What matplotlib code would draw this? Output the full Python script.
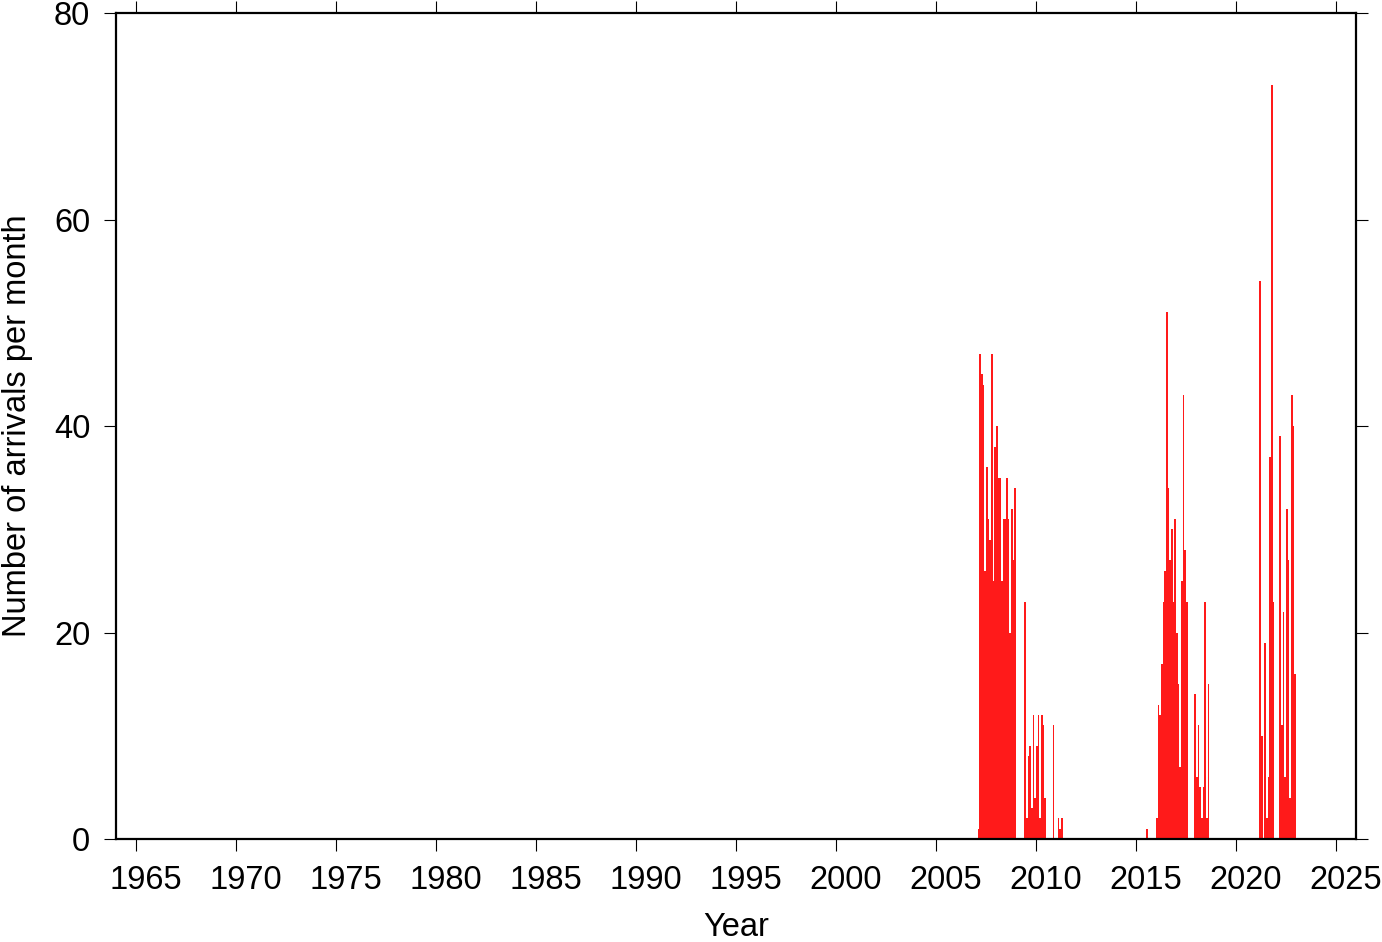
import numpy as np
import matplotlib
matplotlib.use("Agg")
import matplotlib.pyplot as plt

plt.rcParams["font.family"] = ["Liberation Sans", "DejaVu Sans"]

# monthly arrival counts (months with no arrivals are left out)
years = [2007] * 11 + [2008] * 12 + [2009] * 7 + [2010] * 7 + [2011] * 3 \
    + [2015] + [2016] * 12 + [2017] * 8 + [2018] * 8 + [2021] * 8 + [2022] * 10

months = [2, 3, 4, 5, 6, 7, 8, 9, 10, 11, 12,
          1, 2, 3, 4, 5, 6, 7, 8, 9, 10, 11, 12,
          6, 7, 8, 9, 10, 11, 12,
          1, 2, 3, 4, 5, 6, 11,
          2, 3, 4,
          7,
          1, 2, 3, 4, 5, 6, 7, 8, 9, 10, 11, 12,
          1, 2, 3, 4, 5, 6, 7, 12,
          1, 2, 3, 4, 5, 6, 7, 8,
          3, 4, 6, 7, 8, 9, 10, 11,
          3, 4, 5, 6, 7, 8, 9, 10, 11, 12]

counts = [1, 47, 45, 44, 26, 36, 31, 29, 47, 25, 38,
          40, 35, 35, 25, 31, 31, 35, 31, 20, 32, 27, 34,
          23, 2, 8, 9, 3, 12, 4,
          9, 12, 2, 12, 11, 4, 11,
          2, 1, 2,
          1,
          2, 13, 12, 17, 23, 26, 51, 34, 27, 30, 23, 31,
          20, 15, 7, 25, 43, 28, 23, 14,
          6, 11, 5, 2, 5, 23, 2, 15,
          54, 10, 19, 2, 6, 37, 73, 23,
          39, 11, 22, 6, 32, 27, 4, 43, 40, 16]

year_ticks = list(range(1965, 2030, 5))
count_ticks = [0, 20, 40, 60, 80]

t = np.array(years) + (np.array(months) - 0.5) / 12.0

fig = plt.figure(figsize=(13.82, 9.42), dpi=100)
ax = fig.add_axes([0.0839, 0.1093, 0.8973, 0.8769])

ax.bar(t, counts, width=1 / 12 * 0.85, color="#ff1a1a", edgecolor="none")

ax.set_xlim(1964, 2026)
ax.set_ylim(0, 80)

# tick marks at the start of each year, labels sit half a year to the right
ax.set_xticks(year_ticks)
ax.set_xticklabels([])
ax.set_xticks([y + 0.5 for y in year_ticks], minor=True)
ax.set_xticklabels([str(y) for y in year_ticks], minor=True)
ax.set_yticks(count_ticks)

ax.tick_params(axis="both", which="major", direction="out", length=8.5,
               width=0.8, labelsize=23.5, top=True, right=True, pad=10)
ax.tick_params(axis="x", which="minor", length=0, labelsize=23.5, pad=18.5)

for s in ax.spines.values():
    s.set_linewidth(1.6)

ax.set_xlabel("Year", fontsize=23.5, labelpad=12)
ax.set_ylabel("Number of arrivals per month", fontsize=23.5, labelpad=15)

plt.savefig("out.png", dpi=100)
